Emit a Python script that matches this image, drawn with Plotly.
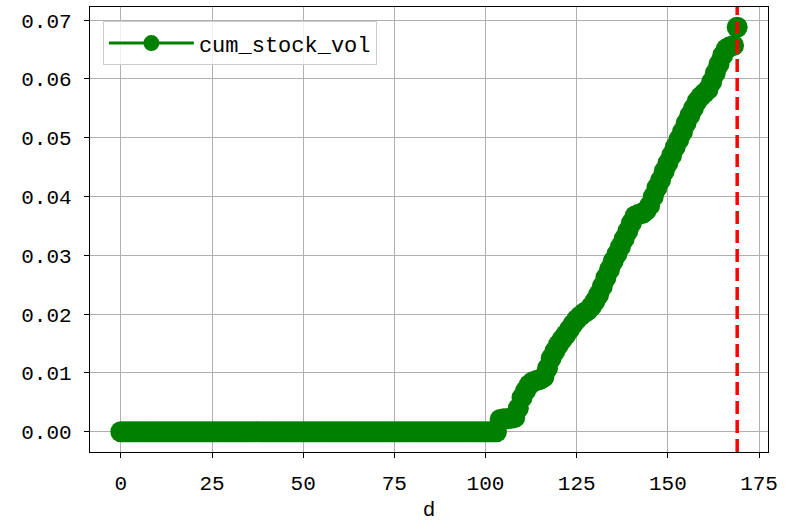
import plotly.graph_objects as go

# Day index and cumulative stock volume
days = list(range(170))
flat_days = 104  # days 0..103 have no volume
rising_vals = [
    0.0021, 0.0022, 0.0022, 0.0023, 0.0024, 0.0040, 0.0058, 0.0070, 0.0080, 0.0085,
    0.0087, 0.0089, 0.0093, 0.0108, 0.0125, 0.0137, 0.0148, 0.0157, 0.0165, 0.0174,
    0.0183, 0.0191, 0.0197, 0.0202, 0.0206, 0.0213, 0.0222, 0.0233, 0.0247, 0.0262,
    0.0276, 0.0290, 0.0302, 0.0315, 0.0328, 0.0341, 0.0355, 0.0367, 0.0370, 0.0371,
    0.0376, 0.0385, 0.0400, 0.0415, 0.0428, 0.0443, 0.0457, 0.0470, 0.0484, 0.0497,
    0.0510, 0.0525, 0.0538, 0.0550, 0.0562, 0.0570, 0.0576, 0.0582, 0.0595, 0.0610,
    0.0625, 0.0640, 0.0651, 0.0655, 0.0657, 0.0688,
]
cum_stock_vol = [0.0] * flat_days + rising_vals

x_ticks = [0, 25, 50, 75, 100, 125, 150, 175]
y_ticks = [0.00, 0.01, 0.02, 0.03, 0.04, 0.05, 0.06, 0.07]

GREEN = "#008000"
FONT = "Liberation Mono"

fig = go.Figure()
fig.add_trace(go.Scatter(
    x=days, y=cum_stock_vol, mode="lines+markers", name="cum_stock_vol",
    line=dict(color=GREEN, width=3),
    marker=dict(color=GREEN, size=21),
))

# marker for the last day
fig.add_shape(type="line", xref="x", yref="paper",
              x0=days[-1], x1=days[-1], y0=0, y1=1,
              line=dict(color="red", width=3.5, dash="13px,6px"), layer="above")

x_span = days[-1] - days[0]
y_max = max(cum_stock_vol)
axis_common = dict(
    showline=True, linecolor="black", linewidth=1.3, mirror=True,
    ticks="outside", ticklen=5, tickwidth=1.3, tickcolor="black",
    showgrid=True, gridcolor="#b0b0b0", gridwidth=1, zeroline=False,
    tickfont=dict(family=FONT, size=21, color="black"),
    automargin=False,
)
fig.update_xaxes(
    range=[days[0] - 0.05 * x_span, days[-1] + 0.05 * x_span],
    tickvals=x_ticks, ticklabelstandoff=7,
    title=dict(text="d", font=dict(family=FONT, size=21, color="black"), standoff=8),
    **axis_common,
)
fig.update_yaxes(
    range=[-0.05 * y_max, 1.05 * y_max],
    tickvals=y_ticks, tickformat=".2f", ticklabelstandoff=8,
    **axis_common,
)
fig.update_layout(
    width=785, height=522,
    margin=dict(l=90, r=17, t=7, b=70),
    paper_bgcolor="white", plot_bgcolor="white",
    showlegend=True,
    legend=dict(
        x=0.019, y=0.968, xanchor="left", yanchor="top",
        bgcolor="rgba(255,255,255,0.8)", bordercolor="#cccccc", borderwidth=1,
        font=dict(family=FONT, size=22, color="black"),
        itemwidth=85,
    ),
)
fig.write_html("out.html")
